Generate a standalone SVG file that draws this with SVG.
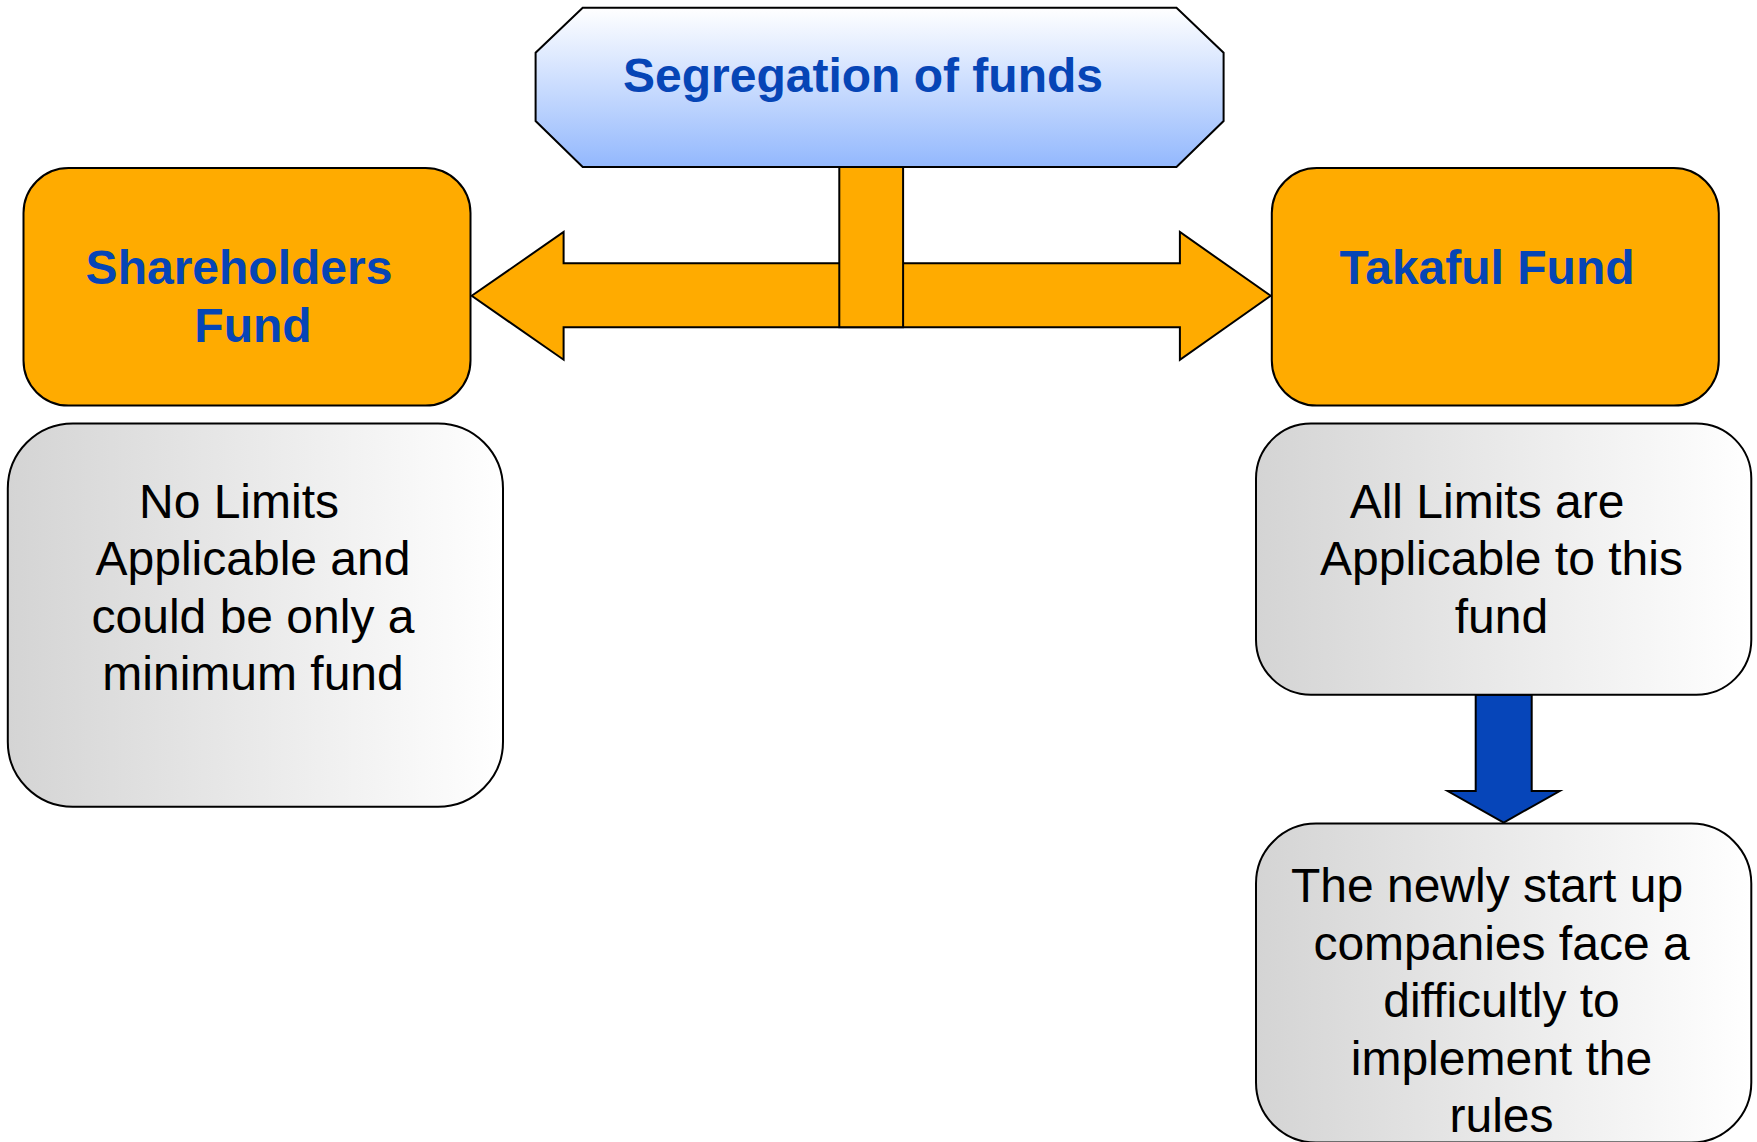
<svg xmlns="http://www.w3.org/2000/svg" width="1757" height="1142" viewBox="0 0 1757 1142">
<defs>
<linearGradient id="gBlue" x1="0" y1="0" x2="0" y2="1">
<stop offset="0" stop-color="#ffffff"/>
<stop offset="1" stop-color="#93b8fd"/>
</linearGradient>
<linearGradient id="gGray" x1="0" y1="0" x2="1" y2="0">
<stop offset="0" stop-color="#d4d4d4"/>
<stop offset="1" stop-color="#ffffff"/>
</linearGradient>
<style>
.stk{stroke:#000;stroke-width:2;}
.orange{fill:#ffab00;}
.gray{fill:url(#gGray);}
.title{font-family:"Liberation Sans",Arial,sans-serif;font-weight:bold;font-size:48px;fill:#0645b6;text-anchor:middle;}
.body{font-family:"Liberation Sans",Arial,sans-serif;font-size:48px;fill:#000;text-anchor:middle;}
</style>
</defs>
<rect width="1757" height="1142" fill="#ffffff"/>

<g id="connectors">
<polygon class="stk orange" points="471.7,295.8 563.6,232 563.6,263.3 1179.9,263.3 1179.9,232 1270.7,295.8 1179.9,359.7 1179.9,327.2 563.6,327.2 563.6,359.7"/>
<rect class="stk orange" x="839.3" y="167" width="63.8" height="160.2"/>
<polygon class="stk" fill="#0645b9" points="1475.7,694.7 1531.7,694.7 1531.7,791 1559.7,791 1503.7,822.5 1447.7,791 1475.7,791"/>
</g>

<g id="segregation">
<polygon class="stk" fill="url(#gBlue)" points="582.7,7.8 1176.5,7.8 1223.6,52.7 1223.6,121 1176.5,167 582.7,167 535.6,121 535.6,52.7"/>
<text class="title" x="863" y="91.5">Segregation of funds</text>
</g>

<g id="shareholders">
<rect class="stk orange" x="23.5" y="168" width="447" height="237.6" rx="45" ry="45"/>
<text class="title"><tspan x="239" y="284">Shareholders</tspan><tspan x="253" y="341.5">Fund</tspan></text>
</g>

<g id="takaful">
<rect class="stk orange" x="1271.8" y="168" width="447" height="237.6" rx="45" ry="45"/>
<text class="title" x="1487" y="284">Takaful Fund</text>
</g>

<g id="no-limits">
<rect class="stk gray" x="7.8" y="423.5" width="495.2" height="383.3" rx="65" ry="65"/>
<text class="body"><tspan x="239" y="517.7">No Limits</tspan><tspan x="253" y="574.8">Applicable and</tspan><tspan x="253" y="633">could be only a</tspan><tspan x="253" y="690">minimum fund</tspan></text>
</g>

<g id="all-limits">
<rect class="stk gray" x="1256" y="423.5" width="495.3" height="271.2" rx="55" ry="55"/>
<text class="body"><tspan x="1487" y="517.7">All Limits are</tspan><tspan x="1501.5" y="574.8">Applicable to this</tspan><tspan x="1501.5" y="633">fund</tspan></text>
</g>

<g id="startup">
<rect class="stk gray" x="1256" y="823.6" width="495.3" height="319" rx="60" ry="60"/>
<text class="body"><tspan x="1487" y="902">The newly start up</tspan><tspan x="1501.5" y="960">companies face a</tspan><tspan x="1501.5" y="1017.4">difficultly to</tspan><tspan x="1501.5" y="1074.6">implement the</tspan><tspan x="1501.5" y="1131.7">rules</tspan></text>
</g>
</svg>
